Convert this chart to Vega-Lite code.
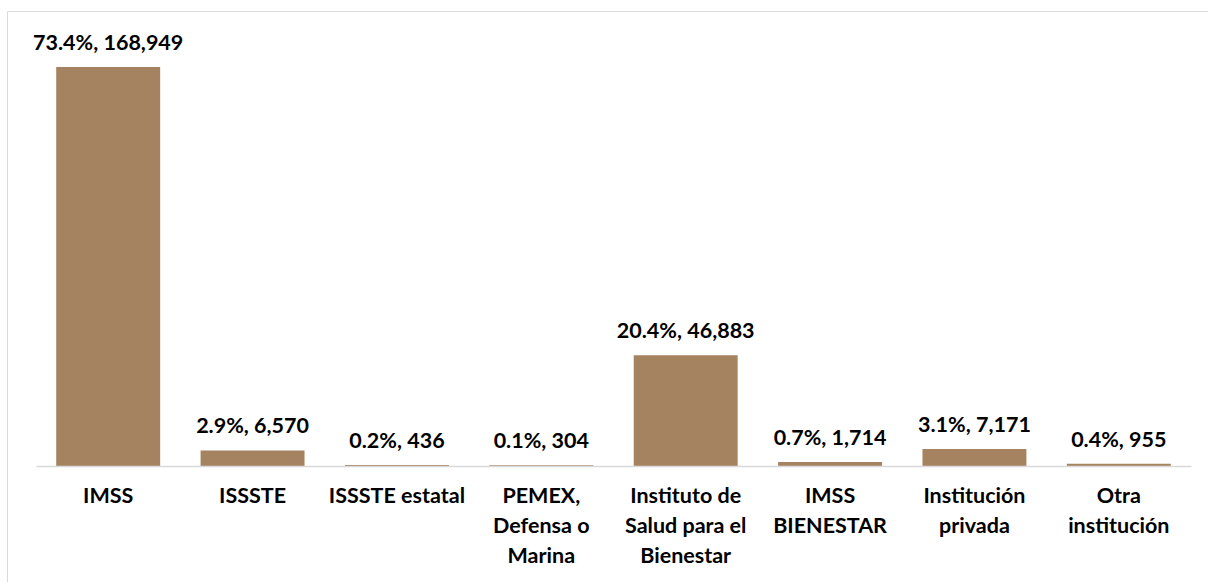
{
  "$schema": "https://vega.github.io/schema/vega-lite/v6.json",
  "width": 1201,
  "height": 571,
  "autosize": {"type": "none"},
  "padding": {"left": 7, "top": 11, "right": 0, "bottom": 0},
  "background": "white",
  "config": {"view": {"stroke": "#D9D9D9", "strokeWidth": 1}, "font": "Lato"},
  "data": {
    "values": [
      {"cat": "IMSS", "pct": 73.4, "value": 168949},
      {"cat": "ISSSTE", "pct": 2.9, "value": 6570},
      {"cat": "ISSSTE estatal", "pct": 0.2, "value": 436},
      {"cat": "PEMEX,\nDefensa o\nMarina", "pct": 0.1, "value": 304},
      {"cat": "Instituto de\nSalud para el\nBienestar", "pct": 20.4, "value": 46883},
      {"cat": "IMSS\nBIENESTAR", "pct": 0.7, "value": 1714},
      {"cat": "Institución\nprivada", "pct": 3.1, "value": 7171},
      {"cat": "Otra\ninstitución", "pct": 0.4, "value": 955}
    ]
  },
  "transform": [
    {"calculate": "format(datum.pct, '.1f') + '%, ' + format(datum.value, ',')", "as": "label"}
  ],
  "encoding": {
    "x": {
      "field": "cat",
      "type": "nominal",
      "sort": null,
      "scale": {"range": [29, 1184], "paddingInner": 0.28, "paddingOuter": 0.14},
      "axis": {
        "title": null,
        "orient": "bottom",
        "offset": -116,
        "zindex": 1,
        "domainColor": "#D9D9D9",
        "domainWidth": 1.5,
        "ticks": false,
        "labelAngle": 0,
        "labelFont": "Lato",
        "labelFontSize": 21.5,
        "labelFontWeight": "bold",
        "labelColor": "black",
        "labelPadding": 19,
        "labelLineHeight": 30,
        "labelOverlap": false,
        "labelLimit": 200,
        "labelExpr": "split(datum.label, '\\n')"
      }
    },
    "y": {
      "field": "value",
      "type": "quantitative",
      "scale": {"domain": [0, 180000], "range": [455, 30]},
      "axis": null
    }
  },
  "layer": [
    {"mark": {"type": "bar", "color": "#A68360"}},
    {
      "mark": {"type": "text", "font": "Lato", "fontWeight": "bold", "fontSize": 21.5, "baseline": "alphabetic", "dy": -17, "color": "black"},
      "encoding": {"text": {"field": "label"}}
    }
  ]
}
